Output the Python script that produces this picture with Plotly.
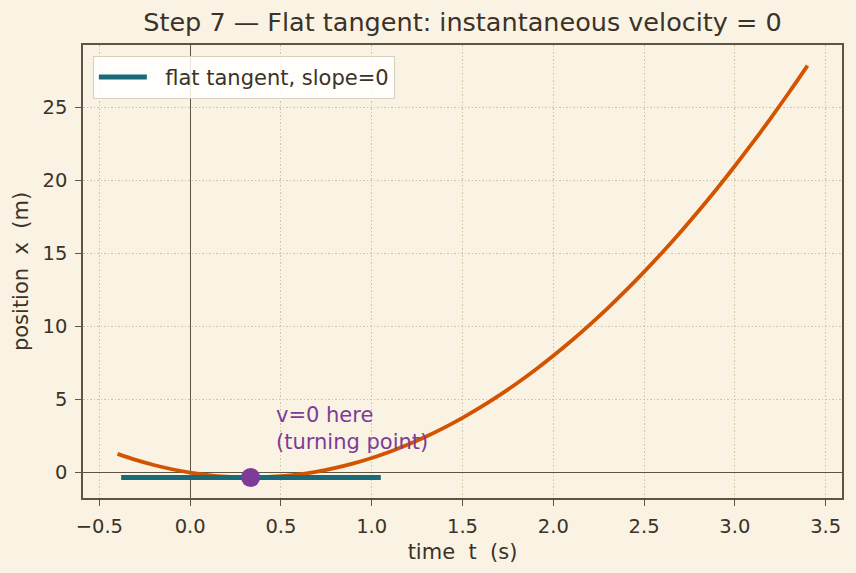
import plotly.graph_objects as go

# data
t_vals = [-0.4, -0.3, -0.2, -0.1, 0.0, 0.1, 0.2, 0.3, 0.4, 0.5, 0.6, 0.7, 0.8, 0.9,
          1.0, 1.1, 1.2, 1.3, 1.4, 1.5, 1.6, 1.7, 1.8, 1.9, 2.0, 2.1, 2.2, 2.3, 2.4,
          2.5, 2.6, 2.7, 2.8, 2.9, 3.0, 3.1, 3.2, 3.3, 3.4]
x_vals = [1.28, 0.87, 0.52, 0.23, 0.0, -0.17, -0.28, -0.33, -0.32, -0.25, -0.12, 0.07,
          0.32, 0.63, 1.0, 1.43, 1.92, 2.47, 3.08, 3.75, 4.48, 5.27, 6.12, 7.03, 8.0,
          9.03, 10.12, 11.27, 12.48, 13.75, 15.08, 16.47, 17.92, 19.43, 21.0, 22.63,
          24.32, 26.07, 27.88]
tangent_t = [-0.38, 1.05]
tangent_x = [-0.333, -0.333]
turn_t = [0.333]
turn_x = [-0.333]
x_ticks = [-0.5, 0.0, 0.5, 1.0, 1.5, 2.0, 2.5, 3.0, 3.5]
x_tick_labels = ["\u22120.5", "0.0", "0.5", "1.0", "1.5", "2.0", "2.5", "3.0", "3.5"]
y_ticks = [0, 5, 10, 15, 20, 25]

BG = "#faf3e3"
INK = "#3b3228"
SPINE = "#5e5446"
GRID = "#d2c5a5"
FONT = "DejaVu Sans"
NB = "\u00a0"

fig = go.Figure()
fig.add_trace(go.Scatter(x=t_vals, y=x_vals, mode="lines",
                         line=dict(color="#d35400", width=3.8), showlegend=False,
                         line_shape="spline"))
fig.add_trace(go.Scatter(x=tangent_t, y=tangent_x, mode="lines",
                         line=dict(color="#1a6b7a", width=5),
                         name=f"{NB}{NB}flat tangent, slope=0"))
fig.add_trace(go.Scatter(x=turn_t, y=turn_x, mode="markers",
                         marker=dict(color="#7d3c98", size=19), showlegend=False))

fig.add_annotation(x=0.46, y=1.17, xref="x", yref="y", xanchor="left", yanchor="bottom",
                   text="v=0 here<br>(turning point)", showarrow=False, align="left",
                   font=dict(family=FONT, size=21, color="#7d3c98"))

axis_common = dict(showline=True, linecolor=SPINE, linewidth=1.5, mirror=True,
                   ticks="outside", ticklen=6, tickcolor=SPINE, tickwidth=1.2,
                   ticklabelstandoff=4,
                   showgrid=True, gridcolor=GRID, griddash="1.5px,2px", gridwidth=1,
                   zeroline=True, zerolinecolor=SPINE, zerolinewidth=1.2,
                   tickfont=dict(family=FONT, size=19.5, color=INK))

fig.update_layout(
    width=856, height=573,
    margin=dict(l=83, r=14, t=45, b=75),
    paper_bgcolor=BG, plot_bgcolor=BG,
    title=dict(text="Step 7 \u2014 Flat tangent: instantaneous velocity = 0",
               x=0.5, xref="paper", xanchor="center", y=0.962, yanchor="middle",
               font=dict(family=FONT, size=25.5, color=INK)),
    xaxis=dict(range=[-0.59, 3.59], tickvals=x_ticks, ticktext=x_tick_labels,
               title=dict(text=f"time{NB}{NB}t{NB}{NB}(s)",
                          font=dict(family=FONT, size=21, color=INK), standoff=7),
               **axis_common),
    yaxis=dict(range=[-1.74, 29.29], tickvals=y_ticks,
               title=dict(text=f"position{NB}{NB}x{NB}{NB}(m)",
                          font=dict(family=FONT, size=21, color=INK), standoff=8),
               **axis_common),
    legend=dict(x=0.013, y=0.976, xanchor="left", yanchor="top",
                bgcolor="rgba(255,255,255,0.85)", bordercolor="#d8d0c0", borderwidth=1,
                itemwidth=48,
                font=dict(family=FONT, size=21, color=INK)),
    showlegend=True,
)

fig.write_html("out.html")
